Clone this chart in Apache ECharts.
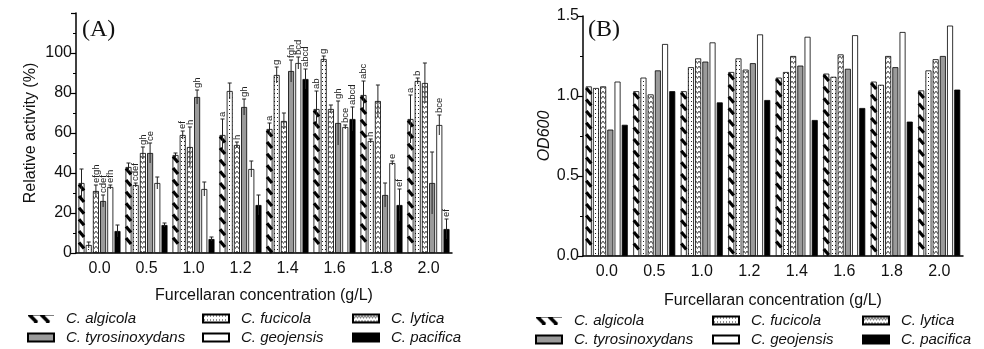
<!DOCTYPE html>
<html>
<head>
<meta charset="utf-8">
<script src="https://cdn.jsdelivr.net/npm/echarts@6/dist/echarts.min.js"></script>
<style>
  html, body { margin: 0; padding: 0; background: #fff; }
  #chart { width: 984px; height: 349px; }
</style>
</head>
<body>
<div id="chart"></div>
<script>
// categories (furcellaran g/L)
var categories = ['0.0', '0.5', '1.0', '1.2', '1.4', '1.6', '1.8', '2.0'];
var speciesNames = ['C. algicola', 'C. fucicola', 'C. lytica', 'C. tyrosinoxydans', 'C. geojensis', 'C. pacifica'];

// (A) relative activity (%)
var actAlgicola = [35, 43, 49, 59, 62, 72, 79, 67];
var actFucicola = [4, 34, 59, 81, 89, 97, 56, 86];
var actLytica = [31, 50, 53, 54, 66, 72, 76, 85];
var actTyros = [26, 50, 78, 73, 91, 65, 29, 35];
var actGeojensis = [33, 35, 32, 42, 95, 63, 45, 64];
var actPacifica = [11, 14, 7, 24, 87, 67, 24, 12];

// (A) error bars
var errAlgicola = [7, 2, 1, 8, 3, 9, 7, 12];
var errFucicola = [1.5, 1, 2, 4, 4, 1.5, 1, 1.5];
var errLytica = [3, 3, 10, 1.5, 4, 2, 8, 10];
var errTyros = [3, 5, 3.5, 4, 5.5, 11, 6, 15.5];
var errGeojensis = [1, 3, 3.5, 4, 3, 1, 1, 5];
var errPacifica = [3, 1, 1, 5, 5, 6, 8, 5];

// (A) significance letters
var lblAlgicola = ['', '', '', 'a', 'a', 'ab', 'abc', 'a'];
var lblFucicola = ['', 'cdef', 'ef', '', 'g', 'g', 'h', 'b'];
var lblLytica = ['efgh', 'gh', 'h', 'h', '', '', '', ''];
var lblTyros = ['cdef', 'ce', 'gh', 'gh', 'fgh', 'gh', '', ''];
var lblGeojensis = ['efh', '', '', '', 'bcd', 'bce', 'e', 'bce'];
var lblPacifica = ['', '', '', '', 'abcd', 'abcd', 'ef', 'ef'];

// (B) OD600
var odAlgicola = [1.06, 1.03, 1.03, 1.15, 1.115, 1.14, 1.09, 1.035];
var odFucicola = [1.05, 1.115, 1.18, 1.235, 1.15, 1.12, 1.07, 1.16];
var odLytica = [1.06, 1.01, 1.235, 1.165, 1.25, 1.26, 1.25, 1.23];
var odTyros = [0.79, 1.16, 1.215, 1.205, 1.19, 1.17, 1.18, 1.25];
var odGeojensis = [1.09, 1.325, 1.335, 1.385, 1.37, 1.38, 1.40, 1.44];
var odPacifica = [0.82, 1.03, 0.96, 0.975, 0.85, 0.925, 0.84, 1.04];

var actData = [actAlgicola, actFucicola, actLytica, actTyros, actGeojensis, actPacifica];
var errData = [errAlgicola, errFucicola, errLytica, errTyros, errGeojensis, errPacifica];
var lblData = [lblAlgicola, lblFucicola, lblLytica, lblTyros, lblGeojensis, lblPacifica];
var odData = [odAlgicola, odFucicola, odLytica, odTyros, odGeojensis, odPacifica];

var BAR_W = 6;
var STEP = 7.2; // bar width + 20% gap
var FONT = "'Liberation Sans', Arial, sans-serif";

// fill patterns
function dotPattern() {
    var c = document.createElement('canvas');
    c.width = 3; c.height = 4;
    var g = c.getContext('2d');
    g.fillStyle = '#fff'; g.fillRect(0, 0, 3, 4);
    g.fillStyle = '#222'; g.fillRect(1, 1, 1, 1);
    return c;
}
function zigPattern() {
    var c = document.createElement('canvas');
    c.width = 6; c.height = 5;
    var g = c.getContext('2d');
    g.fillStyle = '#fff'; g.fillRect(0, 0, 6, 5);
    g.strokeStyle = '#555'; g.lineWidth = 1;
    g.beginPath();
    g.moveTo(0, 1); g.lineTo(1.5, 3.5); g.lineTo(3, 1); g.lineTo(4.5, 3.5); g.lineTo(6, 1);
    g.stroke();
    return c;
}
function hatchIcon() {
    var c = document.createElement('canvas');
    c.width = 26; c.height = 8;
    var g = c.getContext('2d');
    g.fillStyle = '#fff'; g.fillRect(0, 0, 26, 8);
    g.strokeStyle = '#000'; g.lineWidth = 1;
    g.beginPath(); g.moveTo(0, 0.5); g.lineTo(26, 0.5); g.stroke();
    g.lineWidth = 3.5;
    [5, 17].forEach(function (x) {
        g.beginPath(); g.moveTo(x - 4, 0); g.lineTo(x + 4, 8); g.stroke();
    });
    return c.toDataURL();
}

var fills = [
    '#fff',
    { image: dotPattern(), repeat: 'repeat' },
    { image: zigPattern(), repeat: 'repeat' },
    '#9a9a9a',
    '#fff',
    '#000'
];

function barSeries(panel) {
    var data = panel === 0 ? actData : odData;
    return speciesNames.map(function (name, s) {
        return {
            name: name,
            type: 'bar',
            xAxisIndex: panel,
            yAxisIndex: panel,
            barWidth: BAR_W,
            barGap: '20%',
            data: data[s],
            itemStyle: { color: fills[s], borderColor: '#000', borderWidth: 0.8 }
        };
    });
}

// hatch marks drawn over the C. algicola bars
function hatchSeries(panel) {
    var vals = panel === 0 ? actAlgicola : odAlgicola;
    return {
        type: 'custom',
        xAxisIndex: panel,
        yAxisIndex: panel,
        silent: true,
        z: 3,
        encode: { x: 0, y: 1 },
        data: vals.map(function (v, c) { return [c, v]; }),
        renderItem: function (params, api) {
            var base = api.coord([api.value(0), 0]);
            var top = api.coord([api.value(0), api.value(1)]);
            var cx = base[0] - 2.5 * STEP;
            var xl = cx - BAR_W / 2 + 0.5, xr = cx + BAR_W / 2 - 0.5;
            var kids = [];
            for (var y = top[1] + 1.5; y + 6 <= base[1] - 0.5; y += 11.6) {
                kids.push({
                    type: 'line',
                    shape: { x1: xl, y1: y, x2: xr, y2: y + 6 },
                    style: { stroke: '#000', lineWidth: 3.2 }
                });
            }
            return { type: 'group', children: kids };
        }
    };
}

// error bars + letters for panel A
var errItems = [];
actData.forEach(function (vals, s) {
    vals.forEach(function (v, c) {
        errItems.push([c, v, errData[s][c], s]);
    });
});
var errSeries = {
    type: 'custom',
    xAxisIndex: 0,
    yAxisIndex: 0,
    silent: true,
    z: 4,
    encode: { x: 0, y: 1 },
    data: errItems,
    renderItem: function (params, api) {
        var c = api.value(0), v = api.value(1), e = api.value(2), s = api.value(3);
        var hi = api.coord([c, v + e]);
        var lo = api.coord([c, Math.max(0, v - e)]);
        var x = hi[0] + (s - 2.5) * STEP;
        var kids = [
            { type: 'line', shape: { x1: x, y1: hi[1], x2: x, y2: lo[1] }, style: { stroke: '#222', lineWidth: 1 } },
            { type: 'line', shape: { x1: x - 2, y1: hi[1], x2: x + 2, y2: hi[1] }, style: { stroke: '#222', lineWidth: 1 } }
        ];
        var txt = lblData[s][c];
        if (txt) {
            kids.push({
                type: 'text',
                x: x,
                y: hi[1] - 2,
                rotation: Math.PI / 2,
                style: { text: txt, fontSize: 9.5, fontFamily: FONT, fill: '#222', align: 'left', verticalAlign: 'middle' }
            });
        }
        return { type: 'group', children: kids };
    }
};

function legendCol(left, top, names) {
    return {
        orient: 'vertical',
        left: left,
        top: top,
        padding: 0,
        itemWidth: 26,
        itemHeight: 8,
        itemGap: 4,
        selectedMode: false,
        icon: 'rect',
        textStyle: { fontFamily: FONT, fontStyle: 'italic', fontSize: 15, color: '#111', lineHeight: 15, padding: [0, 0, 0, 7] },
        data: names
    };
}
var hatchImg = 'image://' + hatchIcon();
function legendsFor(x1, x2, x3, top) {
    return [
        legendCol(x1, top, [{ name: speciesNames[0], icon: hatchImg }, speciesNames[3]]),
        legendCol(x2, top, [speciesNames[1], speciesNames[4]]),
        legendCol(x3, top, [speciesNames[2], speciesNames[5]])
    ];
}

var axisLine = { lineStyle: { color: '#000', width: 1.5 } };
var tickStyle = { lineStyle: { color: '#000', width: 1.2 } };

function xAxisFor(panel, gap) {
    return {
        type: 'category',
        gridIndex: panel,
        data: categories,
        axisLine: axisLine,
        axisTick: { alignWithLabel: true, length: 5, lineStyle: tickStyle.lineStyle },
        axisLabel: { color: '#111', fontSize: 16, fontFamily: FONT, margin: 8 },
        name: 'Furcellaran concentration (g/L)',
        nameLocation: 'middle',
        nameGap: gap,
        nameTextStyle: { color: '#111', fontSize: 16, fontFamily: FONT }
    };
}

var chart = echarts.init(document.getElementById('chart'), null, { renderer: 'canvas' });
chart.setOption({
    animation: false,
    backgroundColor: '#fff',
    grid: [
        { left: 76, top: 13, width: 376, height: 240 },
        { left: 583, top: 16, width: 380, height: 240 }
    ],
    legend: legendsFor(27, 202, 352, 311).concat(legendsFor(535, 712, 862, 313)),
    xAxis: [xAxisFor(0, 35), xAxisFor(1, 37)],
    yAxis: [
        {
            type: 'value',
            gridIndex: 0,
            min: 0, max: 120, interval: 20,
            splitLine: { show: false },
            axisLine: { show: true, lineStyle: axisLine.lineStyle },
            axisTick: { show: true, length: 5, lineStyle: tickStyle.lineStyle },
            minorTick: { show: true, splitNumber: 2, length: 3, lineStyle: { color: '#000', width: 1 } },
            axisLabel: {
                color: '#111', fontSize: 16, fontFamily: FONT, margin: 4,
                formatter: function (v) { return v > 100 ? '' : v; }
            },
            name: 'Relative activity (%)',
            nameLocation: 'middle',
            nameGap: 37,
            nameTextStyle: { color: '#111', fontSize: 16, fontFamily: FONT }
        },
        {
            type: 'value',
            gridIndex: 1,
            min: 0, max: 1.5, interval: 0.5,
            splitLine: { show: false },
            axisLine: { show: true, lineStyle: axisLine.lineStyle },
            axisTick: { show: true, length: 5, lineStyle: tickStyle.lineStyle },
            minorTick: { show: true, splitNumber: 2, length: 3, lineStyle: { color: '#000', width: 1 } },
            axisLabel: {
                color: '#111', fontSize: 16, fontFamily: FONT, margin: 4,
                formatter: function (v) { return v.toFixed(1); }
            },
            name: 'OD600',
            nameLocation: 'middle',
            nameGap: 30,
            nameTextStyle: { color: '#111', fontSize: 16, fontFamily: FONT, fontStyle: 'italic' }
        }
    ],
    graphic: [
        { type: 'text', left: 82, top: 18, style: { text: '(A)', fontSize: 24, fontFamily: "'Liberation Serif', 'DejaVu Serif', serif", fill: '#111' } },
        { type: 'text', left: 588, top: 18, style: { text: '(B)', fontSize: 24, fontFamily: "'Liberation Serif', 'DejaVu Serif', serif", fill: '#111' } }
    ],
    series: barSeries(0).concat(barSeries(1), [hatchSeries(0), hatchSeries(1), errSeries])
});
</script>
</body>
</html>
